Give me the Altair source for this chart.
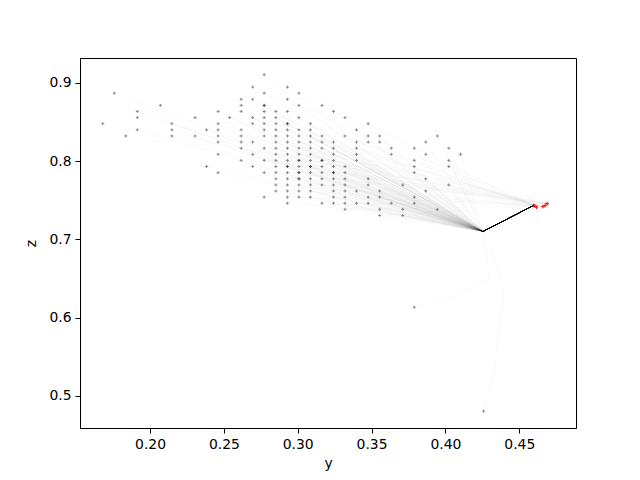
import altair as alt
import pandas as pd

# grid of starting points: z value -> list of y values
rows = {
    0.9102: [0.2773],
    0.8945: [0.2695, 0.2930],
    0.8867: [0.1758, 0.2773, 0.3008],
    0.8789: [0.2617, 0.2695, 0.2930],
    0.8711: [0.2070, 0.2617, 0.2773, 0.3008, 0.3164],
    0.8633: [0.1914, 0.2461, 0.2617, 0.2773, 0.2852, 0.2930, 0.3242],
    0.8555: [0.1914, 0.2305, 0.2539, 0.2695, 0.2773, 0.2852, 0.3008, 0.3320],
    0.8477: [0.1680, 0.2148, 0.2461, 0.2695, 0.2773, 0.2852, 0.2930, 0.3086, 0.3477],
    0.8398: [0.1914, 0.2148, 0.2383, 0.2461, 0.2617, 0.2773, 0.2852, 0.2930, 0.3008, 0.3086, 0.3398],
    0.8320: [0.1836, 0.2148, 0.2305, 0.2461, 0.2617, 0.2773, 0.2852, 0.2930, 0.3008, 0.3086,
             0.3164, 0.3320, 0.3477, 0.3555, 0.3945],
    0.8242: [0.2461, 0.2617, 0.2695, 0.2852, 0.2930, 0.3008, 0.3086, 0.3164, 0.3242, 0.3398,
             0.3477, 0.3555, 0.3867],
    0.8164: [0.2617, 0.2773, 0.2852, 0.2930, 0.3008, 0.3086, 0.3164, 0.3242, 0.3398, 0.3633,
             0.3789, 0.4023],
    0.8086: [0.2461, 0.2695, 0.2852, 0.2930, 0.3008, 0.3086, 0.3242, 0.3398, 0.3633, 0.3867, 0.4102],
    0.8008: [0.2617, 0.2773, 0.2852, 0.2930, 0.3008, 0.3086, 0.3164, 0.3242, 0.3398, 0.3789, 0.4023],
    0.7930: [0.2383, 0.2695, 0.2852, 0.2930, 0.3008, 0.3086, 0.3164, 0.3242, 0.3320, 0.3789, 0.4023],
    0.7852: [0.2461, 0.2773, 0.2852, 0.2930, 0.3008, 0.3086, 0.3164, 0.3242, 0.3320, 0.3789],
    0.7773: [0.2852, 0.2930, 0.3008, 0.3086, 0.3164, 0.3242, 0.3320, 0.3477, 0.3867],
    0.7695: [0.2852, 0.2930, 0.3008, 0.3086, 0.3164, 0.3242, 0.3320, 0.3477, 0.3711, 0.4023],
    0.7617: [0.2852, 0.2930, 0.3008, 0.3086, 0.3242, 0.3320, 0.3398, 0.3555, 0.3867],
    0.7539: [0.2773, 0.2930, 0.3008, 0.3086, 0.3242, 0.3320, 0.3477, 0.3555, 0.3789],
    0.7461: [0.2930, 0.3164, 0.3242, 0.3320, 0.3398, 0.3477, 0.3633, 0.3789],
    0.7383: [0.3320, 0.3555, 0.3711, 0.3945],
    0.7305: [0.3555, 0.3711],
    0.6133: [0.3789],
    0.4805: [0.4258],
}

# points that appear darker (two starts on the same spot)
dup_y = [0.2773, 0.2930, 0.3008, 0.3164, 0.2930, 0.3086, 0.3008, 0.3242, 0.3008]
dup_z = [0.8711, 0.8477, 0.8008, 0.8008, 0.7930, 0.7930, 0.7852, 0.7852, 0.7773]

# final points (red)
red_y = [0.4597, 0.4605, 0.4617, 0.4660, 0.4675, 0.4689]
red_z = [0.7433, 0.7425, 0.7411, 0.7418, 0.7432, 0.7455]

# where many trajectories merge, and where the dark segment ends
hub_y, hub_z = 0.4254, 0.7100
end_y, end_z = 0.4597, 0.7433

# trajectories with their own visible path
special = {
    (0.3789, 0.6133): [(0.405, 0.626), (0.430, 0.650)],
    (0.4258, 0.4805): [(0.433, 0.533), (0.440, 0.640)],
}

x_ticks = [0.20, 0.25, 0.30, 0.35, 0.40, 0.45]
z_ticks = [0.5, 0.6, 0.7, 0.8, 0.9]
x_dom = [0.1526, 0.4884]
z_dom = [0.4590, 0.9316]

pts = []
for z, ys in rows.items():
    for y in ys:
        pts.append({"y": y, "z": z})
starts = list(pts)
for y, z in zip(dup_y, dup_z):
    pts.append({"y": y, "z": z})
pts_df = pd.DataFrame(pts)

traj = []
for k, p in enumerate(starts):
    key = (p["y"], p["z"])
    to_red = (k % 4 == 1) and key not in special
    if to_red:
        fin = [(red_y[k % len(red_y)], red_z[k % len(red_z)])]
    else:
        fin = [(hub_y, hub_z), (end_y, end_z)]
    seq = [key] + special.get(key, []) + fin
    for s, (yy, zz) in enumerate(seq):
        traj.append({"id": k, "step": s, "y": yy, "z": zz, "grp": "red" if to_red else "hub"})
traj_df = pd.DataFrame(traj)

main_df = pd.DataFrame({"y": [hub_y, end_y], "z": [hub_z, end_z], "step": [0, 1]})
red_df = pd.DataFrame({"y": red_y, "z": red_z})

font = "DejaVu Sans"
xs = alt.Scale(domain=x_dom, nice=False, zero=False)
ys = alt.Scale(domain=z_dom, nice=False, zero=False)
xax = alt.Axis(values=x_ticks, format=".2f", title="y", grid=False, tickSize=5,
               labelPadding=4, titlePadding=6, labelFontSize=13.9, titleFontSize=13.9,
               labelFont=font, titleFont=font, titleFontWeight="normal",
               labelColor="black", titleColor="black", tickColor="black",
               domainColor="black", labelFlush=False)
yax = alt.Axis(values=z_ticks, format=".1f", title="z", grid=False, tickSize=5,
               labelPadding=4, titlePadding=10, labelFontSize=13.9, titleFontSize=13.9,
               labelFont=font, titleFont=font, titleFontWeight="normal",
               labelColor="black", titleColor="black", tickColor="black",
               domainColor="black", labelFlush=False)

X = alt.X("y:Q", scale=xs, axis=xax)
Y = alt.Y("z:Q", scale=ys, axis=yax)

lines = alt.Chart(traj_df).mark_line(color="black", strokeWidth=0.6, clip=True).encode(
    x=X, y=Y, detail="id:N", order="step:O",
    opacity=alt.Opacity("grp:N", scale=alt.Scale(domain=["hub", "red"], range=[0.045, 0.03]),
                        legend=None))

main = alt.Chart(main_df).mark_line(color="black", strokeWidth=1, clip=True).encode(
    x=X, y=Y, order="step:O")

plus = "M-1,0L1,0M0,-1L0,1"
points = alt.Chart(pts_df).mark_point(shape=plus, size=9, filled=False, color="black",
                                      opacity=0.45, strokeWidth=1).encode(x=X, y=Y)
reds = alt.Chart(red_df).mark_point(shape=plus, size=12, filled=False, color="red",
                                    opacity=0.9, strokeWidth=1.2).encode(x=X, y=Y)

chart = alt.layer(lines, main, points, reds).properties(
    width=496, height=370, autosize="none",
    padding={"left": 72, "top": 50, "right": 56, "bottom": 44},
    background="white",
).configure_view(stroke="black", strokeWidth=1)

chart.save("out.html", embed_options={"renderer": "svg", "actions": False})
